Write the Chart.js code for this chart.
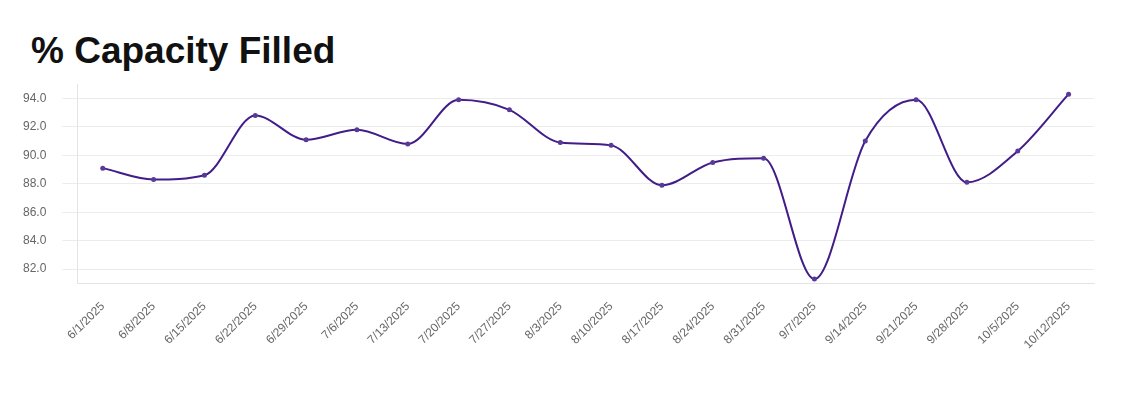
<!DOCTYPE html>
<html lang="en">
<head>
    <meta charset="UTF-8">
    <title>% Capacity Filled</title>
    <script src="https://cdn.jsdelivr.net/npm/chart.js"></script>
    <style>
        * {
            margin: 0;
            padding: 0;
            box-sizing: border-box;
        }
        body {
            background: #fff;
            width: 1122px;
            height: 394px;
            overflow: hidden;
            position: relative;
            font-family: 'Liberation Sans', Arial, sans-serif;
        }
        h2 {
            position: absolute;
            left: 31px;
            top: 33px;
            font-size: 37px;
            line-height: 36px;
            font-weight: bold;
            color: #111;
        }
        .chart-box {
            position: absolute;
            left: 0;
            top: 61px;
            width: 1122px;
            height: 309px;
        }
    </style>
</head>
<body>
    <h2>% Capacity Filled</h2>
    <div class="chart-box">
        <canvas id="capChart"></canvas>
    </div>

    <script>
        // weekly dates and % filled
        const weeks = ['6/1/2025', '6/8/2025', '6/15/2025', '6/22/2025', '6/29/2025', '7/6/2025', '7/13/2025',
            '7/20/2025', '7/27/2025', '8/3/2025', '8/10/2025', '8/17/2025', '8/24/2025', '8/31/2025',
            '9/7/2025', '9/14/2025', '9/21/2025', '9/28/2025', '10/5/2025', '10/12/2025'];
        const filled = [89.1, 88.3, 88.6, 92.8, 91.1, 91.8, 90.8, 93.9, 93.2, 90.9,
            90.7, 87.9, 89.5, 89.8, 81.3, 91.0, 93.9, 88.1, 90.3, 94.3];
        const yTicks = [82, 84, 86, 88, 90, 92, 94];

        Chart.defaults.font.family = "'Liberation Sans', Arial, sans-serif";
        Chart.defaults.color = '#666';

        const ctx = document.getElementById('capChart').getContext('2d');
        new Chart(ctx, {
            type: 'line',
            data: {
                labels: weeks,
                datasets: [{
                    label: '% Capacity Filled',
                    data: filled,
                    borderColor: '#421c88',
                    backgroundColor: '#5a3a98',
                    borderWidth: 2,
                    cubicInterpolationMode: 'monotone',
                    fill: false,
                    pointRadius: 2.5,
                    pointBorderWidth: 0,
                    pointBackgroundColor: '#5a3a98'
                }]
            },
            options: {
                responsive: true,
                maintainAspectRatio: false,
                animation: false,
                layout: {
                    padding: { left: 7, right: 28, top: 5, bottom: 10 }
                },
                plugins: {
                    legend: { display: false },
                    tooltip: { enabled: false }
                },
                scales: {
                    x: {
                        offset: true,
                        grid: { display: false },
                        border: { display: true, color: '#e4e4e4' },
                        afterFit: (axis) => {
                            // rotated first label may hang left, don't push the plot over
                            axis.paddingLeft = 0;
                            axis.paddingRight = 0;
                        },
                        ticks: {
                            font: { size: 12 },
                            maxRotation: 45,
                            minRotation: 45,
                            autoSkip: false,
                            padding: 8
                        }
                    },
                    y: {
                        min: 81,
                        max: 95,
                        afterBuildTicks: (axis) => {
                            axis.ticks = yTicks.map(v => ({ value: v }));
                        },
                        grid: { color: '#ececec', tickLength: 15 },
                        border: { display: true, color: '#e4e4e4' },
                        ticks: {
                            font: { size: 12 },
                            padding: 16,
                            callback: (v) => Number(v).toFixed(1)
                        }
                    }
                }
            }
        });
    </script>
</body>
</html>
